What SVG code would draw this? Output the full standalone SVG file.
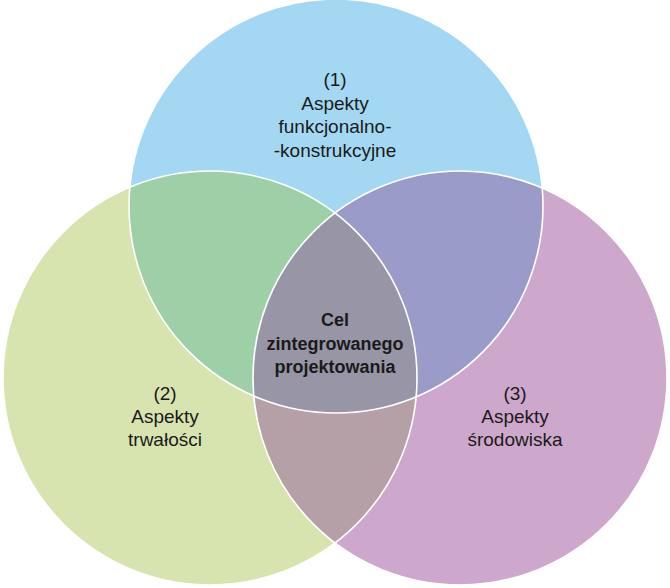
<svg xmlns="http://www.w3.org/2000/svg" width="670" height="588" viewBox="0 0 670 588">
<style>
  .lbl { font-family: "Liberation Sans", Arial, sans-serif; font-size: 19px; fill: #1a1a1a; text-anchor: middle; }
  .ctr { font-family: "Liberation Sans", Arial, sans-serif; font-size: 18px; font-weight: bold; fill: #1a1a1a; text-anchor: middle; }
  .edge { fill: none; stroke: #ffffff; stroke-width: 1.6; }
</style>
<defs>
  <clipPath id="cT"><circle cx="336" cy="206" r="207"/></clipPath>
  <clipPath id="cL"><circle cx="210" cy="378" r="207"/></clipPath>
</defs>
<rect width="670" height="588" fill="#ffffff"/>
<g id="circle-top"><circle cx="336" cy="206" r="207" fill="#a4d8f2"/></g>
<g id="circle-left"><circle cx="210" cy="378" r="207" fill="#d8e4b0"/></g>
<g id="circle-right"><circle cx="460" cy="378" r="207" fill="#cea8cc"/></g>
<g id="overlap-top-left"><circle cx="210" cy="378" r="207" fill="#9fcfa6" clip-path="url(#cT)"/></g>
<g id="overlap-top-right"><circle cx="460" cy="378" r="207" fill="#9b9bc9" clip-path="url(#cT)"/></g>
<g id="overlap-left-right"><circle cx="460" cy="378" r="207" fill="#b5a0a8" clip-path="url(#cL)"/></g>
<g id="overlap-center" clip-path="url(#cT)"><circle cx="460" cy="378" r="207" fill="#9896a6" clip-path="url(#cL)"/></g>
<g id="outlines">
  <circle class="edge" cx="336" cy="206" r="207"/>
  <circle class="edge" cx="210" cy="378" r="207"/>
  <circle class="edge" cx="460" cy="378" r="207"/>
</g>
<g id="label-top">
  <text class="lbl" x="335" y="86">(1)</text>
  <text class="lbl" x="335" y="110">Aspekty</text>
  <text class="lbl" x="335" y="133">funkcjonalno-</text>
  <text class="lbl" x="335" y="157">-konstrukcyjne</text>
</g>
<g id="label-left">
  <text class="lbl" x="165" y="400">(2)</text>
  <text class="lbl" x="165" y="423">Aspekty</text>
  <text class="lbl" x="165" y="446">trwałości</text>
</g>
<g id="label-right">
  <text class="lbl" x="515" y="400">(3)</text>
  <text class="lbl" x="515" y="423">Aspekty</text>
  <text class="lbl" x="515" y="446">środowiska</text>
</g>
<g id="label-center">
  <text class="ctr" x="335" y="326">Cel</text>
  <text class="ctr" x="335" y="350">zintegrowanego</text>
  <text class="ctr" x="335" y="373">projektowania</text>
</g>
</svg>
